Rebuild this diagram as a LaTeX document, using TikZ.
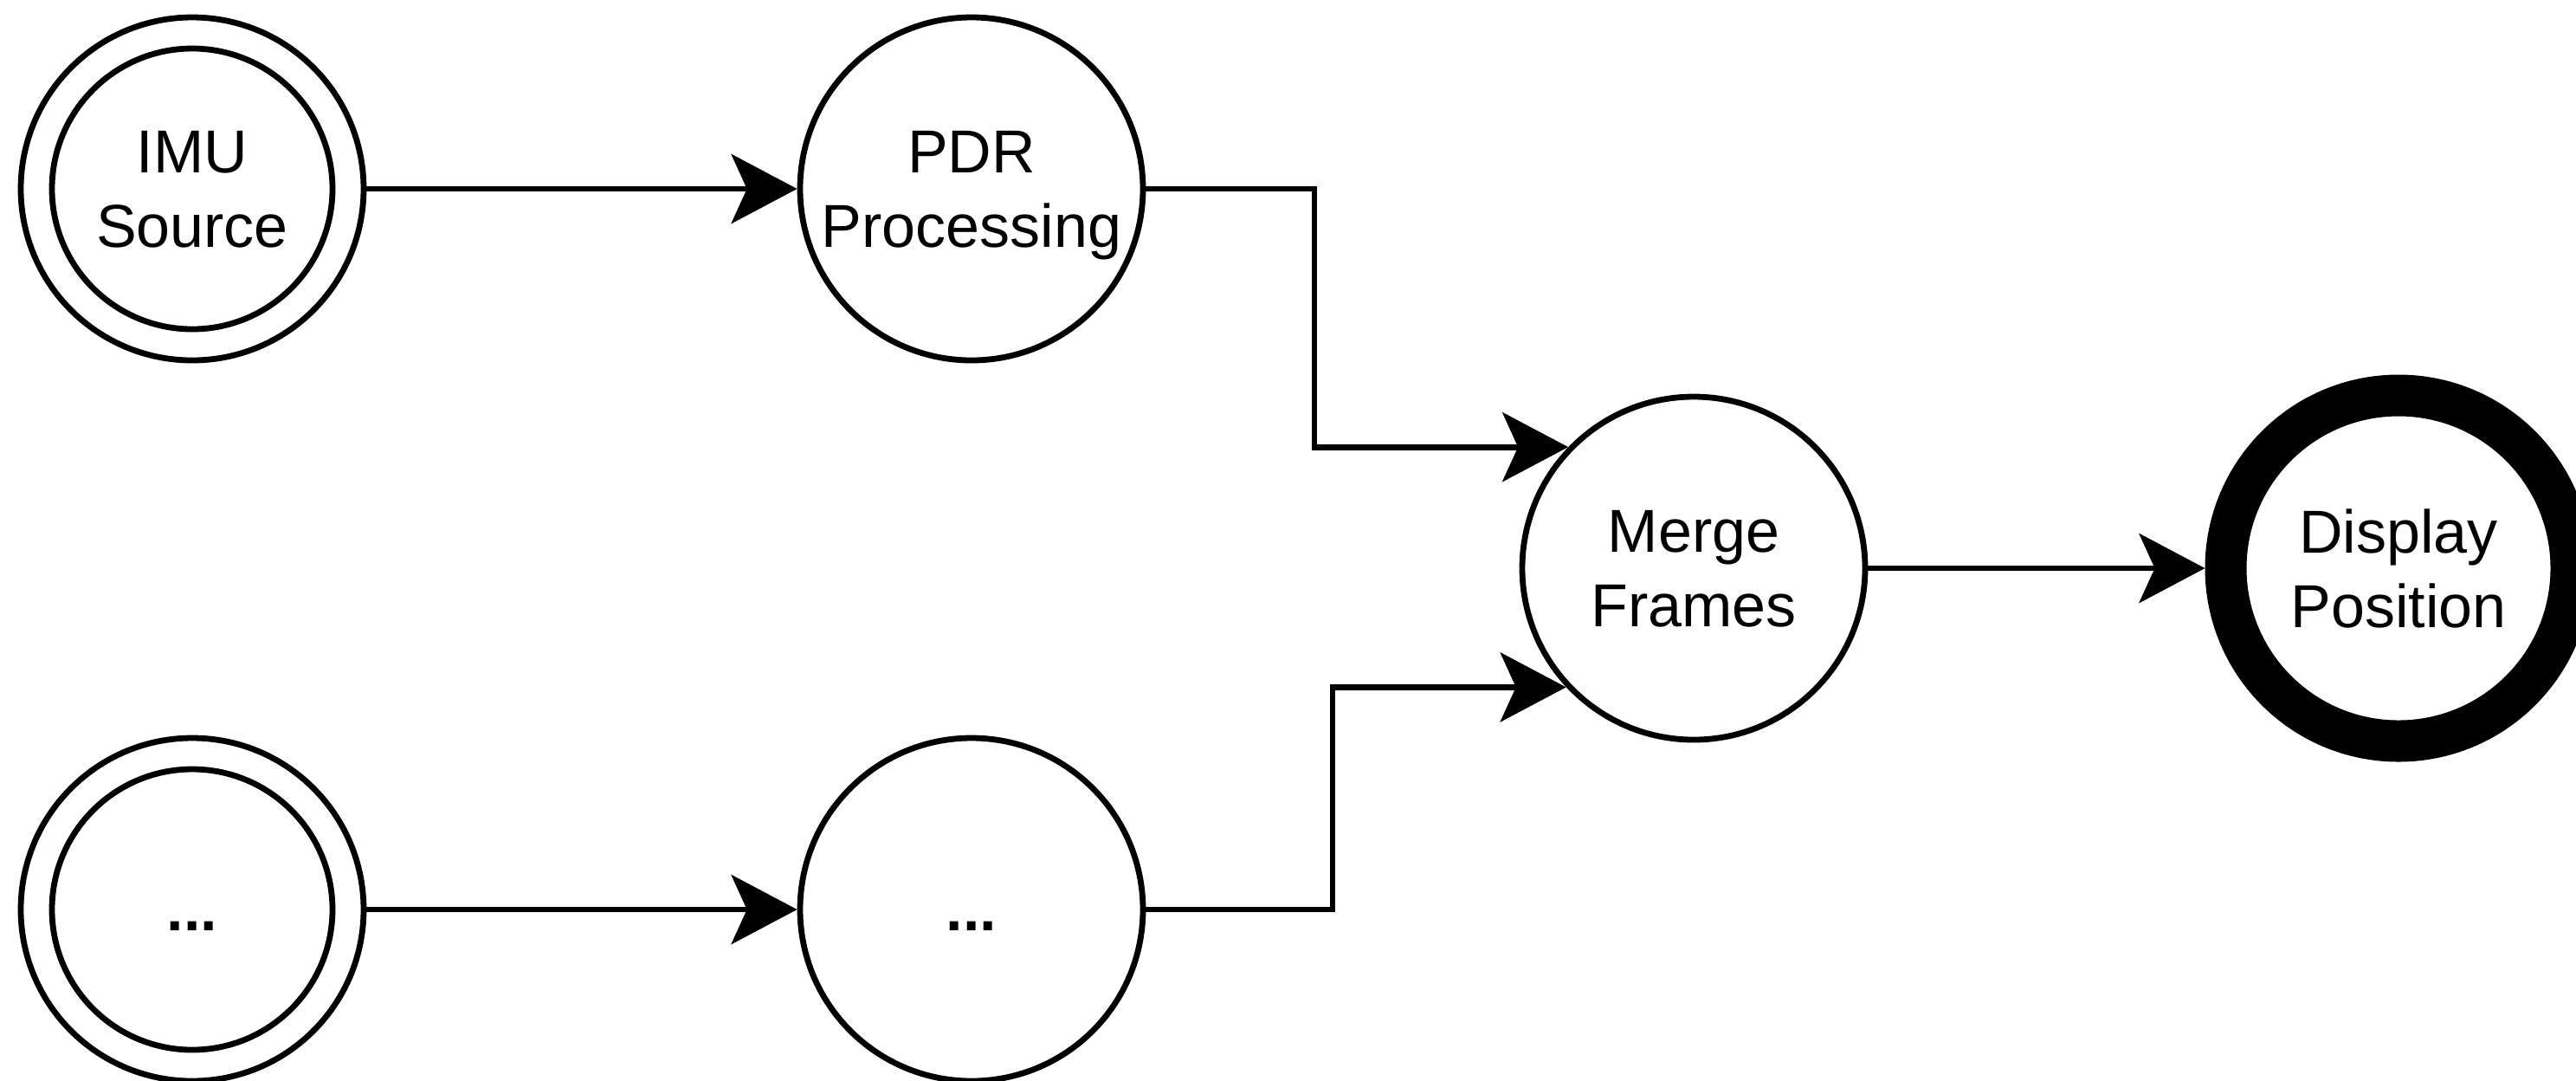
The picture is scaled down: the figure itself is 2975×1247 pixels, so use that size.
\documentclass[tikz,border=0pt]{standalone}
\usepackage{fontspec}
\setmainfont{Liberation Sans}
\usetikzlibrary{arrows.meta}

% two centred lines of a state label, baseline at the last line
\newcommand\twoline[2]{\vbox{\halign{\hfil##\hfil\cr#1\cr#2\cr}}}

\begin{document}
\begin{tikzpicture}[x=0.25pt,y=-0.25pt,
  state/.style={circle,draw,line width=1.7pt,minimum size=99pt,inner sep=0pt,
    font=\fontsize{17.5}{21.5}\selectfont,text depth=0pt},
  source/.style={state,
    path picture={\draw[line width=1.7pt] (path picture bounding box.center) circle (40.5pt);}},
  sink/.style={state,line width=12pt,minimum size=99.75pt},
  flow/.style={line width=1.7pt,-{Stealth[length=19pt,width=20pt,inset=4.5pt]}}]

\useasboundingbox (0,0) rectangle (2975,1247);

% states
\node[source] (imu)   at (222,218)  {\twoline{IMU}{Source}};
\node[state]  (pdr)   at (1122,218) {\twoline{PDR}{Processing}};
\node[source] (src2)  at (222,1050) {\textbf{\vphantom{X}...}};
\node[state]  (proc2) at (1122,1050){\textbf{\vphantom{X}...}};
\node[state]  (merge) at (1956,656) {\twoline{Merge}{Frames}};
\node[sink]   (disp)  at (2770,656) {\twoline{Display}{Position}};

% bends of the routed connectors
\coordinate (bendA) at (1518,218);
\coordinate (bendB) at (1539,1050);

% transitions
\draw[flow] (imu) -- (pdr);
\draw[flow] (src2) -- (proc2);
\draw[flow] (pdr.east) -- (bendA) |- (merge.136.5);
\draw[flow] (proc2.east) -- (bendB) |- (merge.223.5);
\draw[flow] (merge) -- (disp);
\end{tikzpicture}
\end{document}
